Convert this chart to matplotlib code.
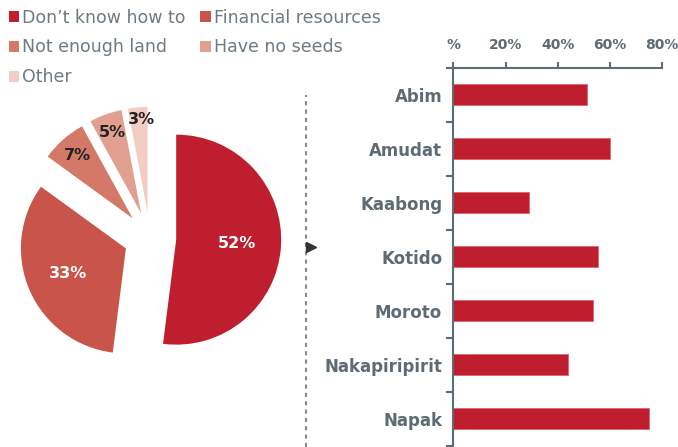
import matplotlib
matplotlib.use("Agg")
import matplotlib.pyplot as plt
import numpy as np
from matplotlib.patches import Patch
from matplotlib.lines import Line2D

# pie data
reasons = ["Don\u2019t know how to", "Financial resources", "Not enough land",
           "Have no seeds", "Other"]
shares = [52, 33, 7, 5, 3]
pie_colors = ["#be1e2d", "#c9554a", "#d47968", "#e09f8f", "#f1cdc3"]
pct_text_colors = ["white", "white", "#222222", "#222222", "#222222"]

# bar data
districts = ["Abim", "Amudat", "Kaabong", "Kotido", "Moroto", "Nakapiripirit", "Napak"]
values = [51, 60, 29, 55.5, 53.5, 44, 75]
xtick_vals = [0, 20, 40, 60, 80]
xtick_labels = ["%", "20%", "40%", "60%", "80%"]

gray = "#5f6b73"
W, H = 678, 447
fig = plt.figure(figsize=(W / 100, H / 100), dpi=100)

# ---- pie ----
r_px = 105
cx, cy = 150, 238
half = 1.4
ax_pie = fig.add_axes([(cx - half * r_px) / W, (H - cy - half * r_px) / H,
                       2 * half * r_px / W, 2 * half * r_px / H])
wedges, texts, autotexts = ax_pie.pie(
    shares, colors=pie_colors, startangle=90, counterclock=False,
    explode=[0.25] * 5, autopct="%d%%", pctdistance=0.58,
    wedgeprops=dict(linewidth=0))
ax_pie.set_xlim(-half, half)
ax_pie.set_ylim(-half, half)
ax_pie.set_aspect("equal")
ax_pie.axis("off")

# small slices get their labels further out
label_dist = [0.58, 0.6, 0.8, 0.82, 0.88]
for w, t, c, d in zip(wedges, autotexts, pct_text_colors, label_dist):
    ang = np.deg2rad((w.theta1 + w.theta2) / 2)
    x0, y0 = w.center
    t.set_position((x0 + d * np.cos(ang), y0 + d * np.sin(ang)))
    t.set_color(c)
    t.set_fontsize(11.5)
    t.set_fontweight("bold")
# the 3% label sits a bit right of its slice in the original
autotexts[4].set_horizontalalignment("left")
autotexts[4].set_x(autotexts[4].get_position()[0] - 0.1)

# legend, filled row by row like the original
order = [0, 2, 4, 1, 3]
handles = [Patch(facecolor=pie_colors[i], edgecolor="none") for i in order]
fig.legend(handles, [reasons[i] for i in order], ncol=2, loc="upper left",
           bbox_to_anchor=(0.0, 1.0), frameon=False, fontsize=12.5,
           handlelength=0.58, handleheight=0.58, handletextpad=0.2,
           columnspacing=0.85, labelspacing=0.68, borderpad=0.5,
           borderaxespad=0.0, labelcolor="#6d7a82")

# ---- divider ----
fig.add_artist(Line2D([306 / W, 306 / W], [0, 1 - 95 / H], color="#7f8c94",
                      linestyle=(0, (2, 2)), linewidth=1.5))
fig.add_artist(Line2D([311 / W], [1 - 247 / H], marker=">", markersize=7,
                      color="#333333", linestyle="none"))

# ---- bars ----
ax_bar = fig.add_axes([453.3 / W, 1.3 / H, 209 / W, 378 / H])
y = np.arange(len(districts))
ax_bar.barh(y, values, height=0.39, color="#be1e2d", edgecolor="#d96670", linewidth=0.6)
ax_bar.set_xlim(0, 80)
ax_bar.set_ylim(len(districts) - 0.5, -0.5)
ax_bar.xaxis.tick_top()
ax_bar.set_xticks(xtick_vals, xtick_labels)
ax_bar.set_yticks(y, districts)
ax_bar.set_yticks(np.arange(-0.5, len(districts), 1), minor=True)
ax_bar.tick_params(axis="x", direction="out", length=4, width=1.5, color=gray,
                   labelcolor=gray, labelsize=10, pad=7)
ax_bar.tick_params(axis="y", which="major", length=0, labelcolor=gray,
                   labelsize=12, pad=8)
ax_bar.tick_params(axis="y", which="minor", direction="out", length=5,
                   width=1.5, color=gray)
for lab in ax_bar.get_xticklabels() + ax_bar.get_yticklabels():
    lab.set_fontweight("bold")
for side in ["right", "bottom"]:
    ax_bar.spines[side].set_visible(False)
for side in ["left", "top"]:
    ax_bar.spines[side].set_color(gray)
    ax_bar.spines[side].set_linewidth(1.5)

fig.savefig("out.png", dpi=100)
